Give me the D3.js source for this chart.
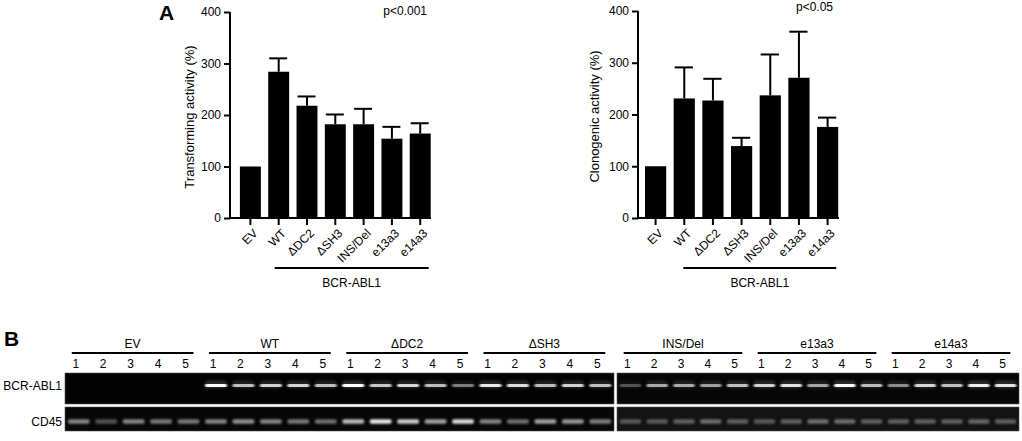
<!DOCTYPE html>
<html><head><meta charset="utf-8">
<script src="https://cdn.jsdelivr.net/npm/d3@7"></script>
<style>body{margin:0;background:#fff;overflow:hidden}text{font-family:"Liberation Sans",Arial,sans-serif;fill:#000}</style>
</head><body><svg id="c" width="1022" height="441"></svg>
<script>
// ---------- data ----------
const categories = ["EV", "WT", "\u0394DC2", "\u0394SH3", "INS/Del", "e13a3", "e14a3"];
const transforming = [100, 284, 218, 182, 182, 154, 164];
const transformingUpper = [100, 310, 236, 201, 212, 177, 184];
const clonogenic = [100, 231, 227, 139, 237, 271, 176];
const clonogenicUpper = [100, 291, 269, 155, 316, 360, 194];
const yTicks = [0, 100, 200, 300, 400];
const pLeft = "p<0.001";
const pRight = "p<0.05";
const groupLabel = "BCR-ABL1";
const laneLabels = ["1", "2", "3", "4", "5"];
const rowLabels = ["BCR-ABL1", "CD45"];
// band intensities per group (5 lanes each), 0..1
const bcrIntensity = [
  [0, 0, 0, 0, 0],
  [1.0, 0.72, 0.8, 0.82, 0.72],
  [1.0, 0.75, 0.82, 0.7, 0.45],
  [0.9, 0.85, 0.7, 0.8, 0.72],
  [0.28, 0.62, 0.62, 0.58, 0.72],
  [0.8, 0.88, 0.6, 1.0, 0.7],
  [0.5, 0.82, 0.72, 0.92, 0.88]
];
const cd45Intensity = [
  [0.5, 0.3, 0.5, 0.45, 0.45],
  [0.5, 0.55, 0.5, 0.45, 0.42],
  [0.72, 0.9, 0.8, 0.62, 0.85],
  [0.5, 0.42, 0.62, 0.58, 0.48],
  [0.3, 0.3, 0.33, 0.38, 0.33],
  [0.3, 0.33, 0.38, 0.38, 0.33],
  [0.33, 0.33, 0.33, 0.35, 0.33]
];

const svg = d3.select("#c");
const FONT = 12;

// ---------- defs ----------
const defs = svg.append("defs");
defs.append("filter").attr("id", "b1").attr("x", "-30%").attr("y", "-200%").attr("width", "160%").attr("height", "500%")
  .append("feGaussianBlur").attr("stdDeviation", "0.9 0.7");
defs.append("filter").attr("id", "b2").attr("x", "-30%").attr("y", "-200%").attr("width", "160%").attr("height", "500%")
  .append("feGaussianBlur").attr("stdDeviation", "1.2 1.2");

// ---------- bar charts ----------
function barChart(cfg) {
  const g = svg.append("g");
  const y = d3.scaleLinear().domain([0, 400]).range([cfg.yBottom, cfg.yTop]);
  const x = d3.scaleBand().domain(categories).range([cfg.x0, cfg.x1])
    .paddingInner(0.26).paddingOuter(cfg.po);
  const bw = x.bandwidth();

  g.selectAll("rect.bar").data(categories).join("rect")
    .attr("x", d => x(d)).attr("width", bw)
    .attr("y", (d, i) => y(cfg.values[i]))
    .attr("height", (d, i) => y(0) - y(cfg.values[i]))
    .attr("fill", "#000");
  const eb = g.selectAll("g.err").data(categories.map((c, i) => ({c, v: cfg.values[i], u: cfg.upper[i]})).filter(d => d.u > d.v)).join("g");
  eb.append("line").attr("x1", d => x(d.c) + bw / 2).attr("x2", d => x(d.c) + bw / 2)
    .attr("y1", d => y(d.v)).attr("y2", d => y(d.u)).attr("stroke", "#000").attr("stroke-width", 2);
  eb.append("line").attr("x1", d => x(d.c) + 1).attr("x2", d => x(d.c) + bw - 2)
    .attr("y1", d => y(d.u)).attr("y2", d => y(d.u)).attr("stroke", "#000").attr("stroke-width", 2);

  const ya = g.append("g").attr("transform", `translate(${cfg.x0},0)`)
    .call(d3.axisLeft(y).tickValues(yTicks).tickSize(6).tickPadding(3));
  ya.select(".domain").attr("stroke-width", 2).attr("d", `M0,${cfg.yBottom + 1}V${cfg.yTop}`);
  ya.selectAll(".tick line").attr("stroke-width", 2);
  ya.selectAll(".tick text").attr("font-size", FONT).attr("font-family", "Liberation Sans, Arial, sans-serif").attr("fill", "#000");

  const xa = g.append("g").attr("transform", `translate(0,${cfg.yBottom})`)
    .call(d3.axisBottom(x).tickSize(7).tickFormat(""));
  xa.select(".domain").attr("stroke-width", 2).attr("d", `M${cfg.x0 - 1},0H${cfg.xEnd}`);
  xa.selectAll(".tick line").attr("stroke-width", 2);
  g.selectAll("text.xl").data(categories).join("text")
    .attr("class", "xl")
    .attr("transform", d => `translate(${x(d) + bw / 2 + 5},${cfg.yBottom + 13}) rotate(-45)`)
    .attr("text-anchor", "end").attr("dy", "0.35em").attr("font-size", FONT).text(d => d);

  const gx1 = x(categories[1]) + bw / 2 - 4 + cfg.gOff;
  const gx2 = x(categories[categories.length - 1]) + bw - 2;
  g.append("line").attr("x1", gx1).attr("x2", gx2).attr("y1", 268).attr("y2", 268)
    .attr("stroke", "#000").attr("stroke-width", 2);
  g.append("text").attr("x", (gx1 + gx2) / 2).attr("y", 287).attr("text-anchor", "middle")
    .attr("font-size", FONT).text(groupLabel);

  g.append("text").attr("transform", `translate(${cfg.titleX},${(cfg.yTop + cfg.yBottom) / 2 + 2}) rotate(-90)`)
    .attr("text-anchor", "middle").attr("font-size", 13).text(cfg.title);
  g.append("text").attr("x", cfg.pX).attr("y", cfg.pY).attr("text-anchor", "end")
    .attr("font-size", FONT).text(cfg.p);
}

barChart({values: transforming, upper: transformingUpper, x0: 230, x1: 440.6, po: 0.35, xEnd: 431,
  yTop: 12, yBottom: 218, title: "Transforming activity (%)", titleX: 194, p: pLeft, pX: 427, pY: 15, gOff: 0});
barChart({values: clonogenic, upper: clonogenicUpper, x0: 638, x1: 845.2, po: 0.244, xEnd: 839,
  yTop: 11, yBottom: 218, title: "Clonogenic activity (%)", titleX: 599, p: pRight, pX: 833, pY: 11, gOff: 3});

svg.append("text").attr("x", 159).attr("y", 20).attr("font-size", 21).attr("font-weight", "bold").text("A");
svg.append("text").attr("x", 4).attr("y", 346).attr("font-size", 21).attr("font-weight", "bold").text("B");

// ---------- gel ----------
const rowBCR = {y0: 373, y1: 404, bandY: 385.5, h: 3};
const rowCD = {y0: 407, y1: 431, bandY: 421.5, h: 4.5};
const panels = [
  {groups: [0, 1, 2, 3], x0: 65, x1: 614, bgB: "#030303", bgC: "#070707"},
  {groups: [4, 5, 6], x0: 617, x1: 1019, bgB: "#060606", bgC: "#131313"}
];
const gel = svg.append("g");
panels.forEach(p => {
  const laneIdx = d3.range(p.groups.length * 5);
  const x = d3.scaleBand().domain(laneIdx).range([p.x0, p.x1]).paddingInner(0.2).paddingOuter(0.1);
  const bw = x.bandwidth();
  gel.append("rect").attr("x", p.x0).attr("y", rowBCR.y0).attr("width", p.x1 - p.x0).attr("height", rowBCR.y1 - rowBCR.y0)
    .attr("fill", p.bgB).attr("stroke", "#555").attr("stroke-width", 0.6);
  gel.append("rect").attr("x", p.x0).attr("y", rowCD.y0).attr("width", p.x1 - p.x0).attr("height", rowCD.y1 - rowCD.y0)
    .attr("fill", p.bgC).attr("stroke", "#555").attr("stroke-width", 0.6);

  const lanesData = [];
  p.groups.forEach((gi, k) => {
    laneLabels.forEach((l, j) => lanesData.push({gi, j, idx: k * 5 + j, label: l}));
    const lx1 = x(k * 5) + 4, lx2 = x(k * 5 + 4) + bw - 6;
    gel.append("line").attr("x1", lx1).attr("x2", lx2).attr("y1", 353).attr("y2", 353)
      .attr("stroke", "#000").attr("stroke-width", 2);
    gel.append("text").attr("x", (lx1 + lx2) / 2).attr("y", 348).attr("text-anchor", "middle")
      .attr("font-size", FONT).text(categories[gi]);
  });
  gel.selectAll(null).data(lanesData).join("text")
    .attr("x", d => x(d.idx) + bw / 2 - 3).attr("y", 368).attr("text-anchor", "middle")
    .attr("font-size", FONT).text(d => d.label);
  gel.selectAll(null).data(lanesData.filter(d => bcrIntensity[d.gi][d.j] > 0)).join("rect")
    .attr("x", d => x(d.idx)).attr("width", bw)
    .attr("y", rowBCR.bandY - rowBCR.h / 2).attr("height", rowBCR.h).attr("rx", 1.5)
    .attr("fill", "#fff").attr("opacity", d => bcrIntensity[d.gi][d.j])
    .attr("filter", "url(#b1)");
  gel.selectAll(null).data(lanesData.filter(d => bcrIntensity[d.gi][d.j] > 0)).join("rect")
    .attr("x", d => x(d.idx)).attr("width", bw)
    .attr("y", rowBCR.bandY - 5).attr("height", 8).attr("rx", 3)
    .attr("fill", "#fff").attr("opacity", d => bcrIntensity[d.gi][d.j] * 0.15)
    .attr("filter", "url(#b2)");
  gel.selectAll(null).data(lanesData).join("rect")
    .attr("x", d => x(d.idx)).attr("width", bw)
    .attr("y", rowCD.bandY - rowCD.h / 2).attr("height", rowCD.h).attr("rx", 2)
    .attr("fill", "#fff").attr("opacity", d => cd45Intensity[d.gi][d.j])
    .attr("filter", "url(#b2)");
});
rowLabels.forEach((r, i) => {
  gel.append("text").attr("x", 62).attr("y", [rowBCR, rowCD][i].bandY + 4).attr("text-anchor", "end")
    .attr("font-size", FONT).text(r);
});
</script></body></html>
